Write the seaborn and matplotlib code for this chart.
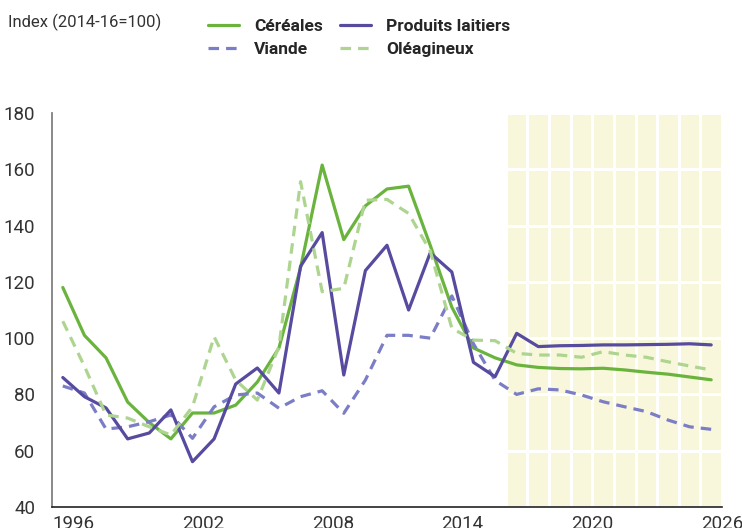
import numpy as np
import pandas as pd
import matplotlib
matplotlib.use("Agg")
import matplotlib.pyplot as plt
import seaborn as sns
from matplotlib.ticker import MultipleLocator, FixedLocator

# data (index 2014-16 = 100)
years = list(range(1996, 2027))
cereales = [118, 101, 93, 77.3, 70, 64.2, 73.4, 73.4, 76.2, 84.4, 96.5, 125, 161.5, 135, 147, 153, 154,
            133, 111, 96.5, 93, 90.5, 89.6, 89.2, 89.1, 89.3, 88.7, 87.9, 87.2, 86.2, 85.2]
laitiers = [86, 79.2, 75.2, 64.2, 66.3, 74.5, 56.1, 64.2, 83.7, 89.4, 80.5, 125.5, 137.5, 86.9, 124, 133, 110,
            130.3, 123.5, 91.4, 86.3, 101.7, 97, 97.3, 97.4, 97.6, 97.6, 97.7, 97.8, 98, 97.6]
viande = [83, 80.5, 67.7, 68.5, 70.3, 72.7, 64.4, 75.6, 79.8, 80.5, 75.1, 79.2, 81.3, 73.3, 85.1, 101, 101,
          100, 115, 98, 85, 80, 82, 81.6, 79.8, 77.4, 75.6, 73.9, 70.9, 68.5, 67.6]
oleagineux = [106, 90, 72.7, 71.6, 68.5, 65.6, 75.6, 100.5, 85.1, 78, 97, 155.6, 116.5, 117.7, 149, 149.3, 144.3,
              131, 103.5, 99.3, 99.1, 94.6, 94, 94, 93.2, 95.2, 94, 93.2, 91.6, 90.1, 88.7]
tick_years = [1996, 2002, 2008, 2014, 2020, 2026]
projection_start = 2017

series = ["Céréales", "Viande", "Produits laitiers", "Oléagineux"]
colors = {"Céréales": "#6ab43e", "Produits laitiers": "#574b9f",
          "Viande": "#7b7dc6", "Oléagineux": "#aed58f"}
dash_spec = {"Céréales": "", "Produits laitiers": "", "Viande": (3.3, 2.2), "Oléagineux": (3.3, 2.2)}

df = pd.DataFrame({"year": years, "Céréales": cereales, "Produits laitiers": laitiers,
                   "Viande": viande, "Oléagineux": oleagineux})
long = df.melt(id_vars="year", var_name="produit", value_name="index")
# each year sits in the middle of its interval, labels mark the end of the interval
long["x"] = long["year"] - 0.5

sns.set_style("white")
plt.rcParams["font.family"] = ["Roboto", "DejaVu Sans"]

fig = plt.figure(figsize=(7.42, 5.28), dpi=100)
ax = fig.add_axes([52 / 742, 1 - 507 / 528, 670 / 742, 394 / 528])

# projection period shading
ax.axvspan(projection_start - 1, years[-1], color="#f8f7dc", zorder=0.1, lw=0)

sns.lineplot(data=long, x="x", y="index", hue="produit", style="produit",
             hue_order=series, style_order=series, palette=colors, dashes=dash_spec,
             linewidth=2.3, ax=ax, legend=False, zorder=3)

ax.set_xlim(years[0] - 1, years[-1])
ax.set_ylim(40, 180)
ax.yaxis.set_major_locator(MultipleLocator(20))
ax.xaxis.set_major_locator(FixedLocator(tick_years))
ax.xaxis.set_minor_locator(MultipleLocator(1))
ax.set_xticklabels([str(y) for y in tick_years])

ax.set_axisbelow(True)
ax.grid(True, which="both", color="white", lw=2.2, zorder=0.5)
ax.set_xlabel("")
ax.set_ylabel("")

for side in ["top", "right"]:
    ax.spines[side].set_visible(False)
ax.spines["left"].set_color("#808080")
ax.spines["left"].set_linewidth(1.3)
ax.spines["bottom"].set_color("#222222")
ax.spines["bottom"].set_linewidth(1.2)

ax.tick_params(axis="y", direction="in", length=5, width=1.1, color="#444444",
               labelsize=13.5, labelcolor="#333333", pad=12)
ax.tick_params(axis="x", which="both", direction="in", length=3.5, width=1.0, color="#222222",
               labelsize=13.5, labelcolor="#333333", pad=6)

fig.text(8 / 742, 1 - 22 / 528, "Index (2014-16=100)", fontsize=12, color="#333333",
         ha="left", va="center")

handles = [plt.Line2D([], [], color=colors[s], lw=2.3,
                      linestyle="-" if dash_spec[s] == "" else (0, dash_spec[s])) for s in series]
fig.legend(handles, series, loc="upper left", bbox_to_anchor=(208 / 742, 1 - 19 / 528),
           ncol=2, frameon=False, borderpad=0, borderaxespad=0, handlelength=1.8,
           handletextpad=0.85, columnspacing=1.0, labelspacing=0.45,
           prop={"size": 12.5, "weight": "bold"})

fig.savefig("out.png", dpi=100)
